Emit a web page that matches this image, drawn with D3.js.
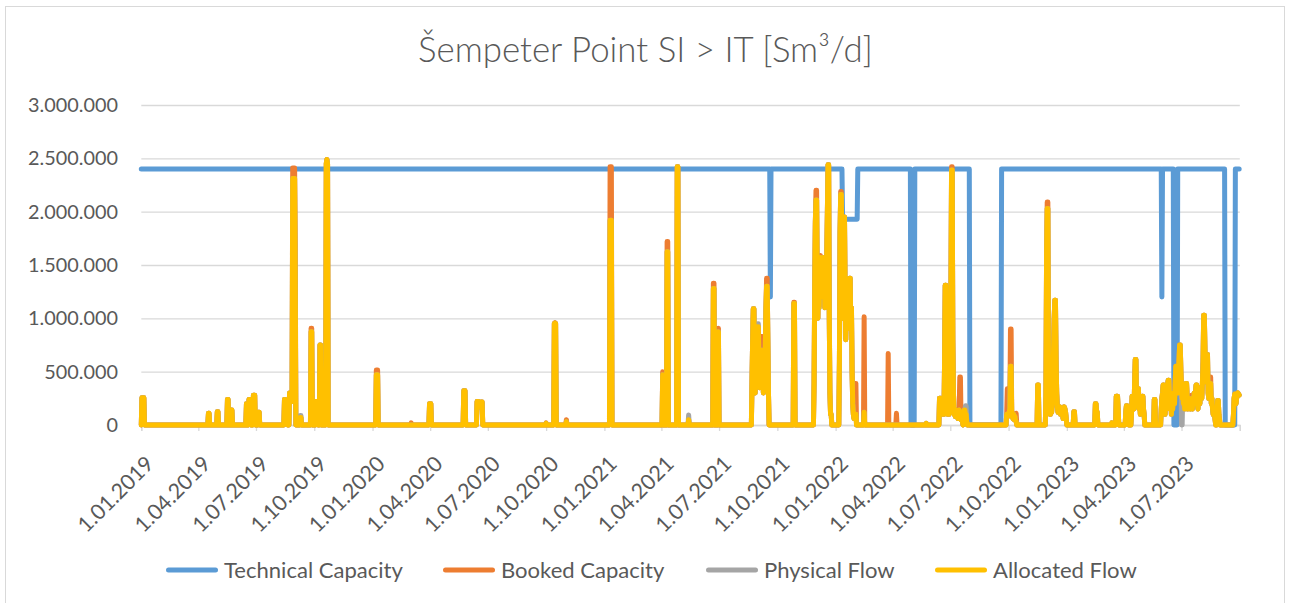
<!DOCTYPE html>
<html><head><meta charset="utf-8">
<script src="https://cdn.jsdelivr.net/npm/d3@7"></script>
<style>
html,body{margin:0;padding:0;background:#fff;}
svg{display:block;}
</style></head>
<body>
<svg id="chart" width="1290" height="603"></svg>
<script>
// ---------------- DATA ----------------
const chartTitle = "Šempeter Point SI > IT [Sm³/d]";
const seriesNames = ["Technical Capacity", "Booked Capacity", "Physical Flow", "Allocated Flow"];
const yTickValues = [0, 500000, 1000000, 1500000, 2000000, 2500000, 3000000];
const xTickLabels = ["1.01.2019","1.04.2019","1.07.2019","1.10.2019","1.01.2020","1.04.2020","1.07.2020","1.10.2020",
  "1.01.2021","1.04.2021","1.07.2021","1.10.2021","1.01.2022","1.04.2022","1.07.2022","1.10.2022",
  "1.01.2023","1.04.2023","1.07.2023"];
const axisEndDate = "2023-10-01";
const firstDay = "2019-01-01";
const lastDay = "2023-09-30";

// Technical capacity: [from, to (inclusive), Sm3/d]
const technicalCapacityPeriods = [
  ["2019-01-01","2021-09-19",2400000],
  ["2021-09-20","2021-09-20",1200000],
  ["2021-09-21","2022-01-11",2400000],
  ["2022-01-12","2022-02-04",1930000],
  ["2022-02-05","2022-04-29",2400000],
  ["2022-04-30","2022-05-05",0],
  ["2022-05-06","2022-07-31",2400000],
  ["2022-08-01","2022-09-19",0],
  ["2022-09-20","2023-05-30",2400000],
  ["2023-05-31","2023-05-31",1200000],
  ["2023-06-01","2023-06-18",2400000],
  ["2023-06-19","2023-06-24",0],
  ["2023-06-25","2023-09-07",2400000],
  ["2023-09-08","2023-09-23",0],
  ["2023-09-24","2023-09-30",2400000]
];

// Flow series: [first day, daily values in 1000 Sm3/d]; all other days are 0
const allocatedFlowRuns = [
  ["2019-01-02",[255,255,255,255]],
  ["2019-04-17",[110,110]],
  ["2019-05-01",[125,125]],
  ["2019-05-17",[240,240]],
  ["2019-05-23",[140,140]],
  ["2019-06-16",[200,200]],
  ["2019-06-20",[240,240,240]],
  ["2019-06-27",[280,280,280]],
  ["2019-07-05",[120,120]],
  ["2019-08-15",[240,240,160,180,200]],
  ["2019-08-23",[300,300,250,300,220,2310,2310,2310,2310,1330]],
  ["2019-09-09",[70,70]],
  ["2019-09-26",[875,875]],
  ["2019-10-04",[220,220,220]],
  ["2019-10-10",[750,750]],
  ["2019-10-20",[2450,2490,2450]],
  ["2020-01-07",[470,470,470]],
  ["2020-03-31",[200,200,200]],
  ["2020-05-24",[320,320,320]],
  ["2020-06-14",[220,220,220,200,170,200,215,215,215]],
  ["2020-10-01",[15]],
  ["2020-10-14",[950,955,950]],
  ["2020-11-02",[30]],
  ["2021-01-10",[1920,1920,1920]],
  ["2021-04-03",[470]],
  ["2021-04-10",[1625,1625]],
  ["2021-04-26",[2420,2420]],
  ["2021-05-14",[50]],
  ["2021-06-22",[1280,1280]],
  ["2021-06-30",[875]],
  ["2021-08-22",[400,800,1090,1090,600,300,650,450,800,920,920,550,350,600,400,700,700,450,300,550,400,700,1100,1300,1300,800,300]],
  ["2021-10-27",[1140,1140]],
  ["2021-11-28",[400,1300,1900,2110,2110,1300,1000,1450,1100,1500,1570,1300,1550,1200,1570,1400,1560,1100,1500,1300,1600,2000,2440,2440,1000,300,100,100]],
  ["2022-01-07",[600,1800,2160,2160,1500,1000,1600,1950,1950,1200,800,1100,900,1200,1000,1250,1375,1375,900,1100,500,200,100,60,80,100,100]],
  ["2022-02-15",[120]],
  ["2022-05-24",[15]],
  ["2022-06-14",[250,200,250,150,100,200,150,100,600,1310,1310,400,200,100,150,100,200,300,1200,2390,2390,800,300,100,150,80,140,100,120,60,100,140,100,100,50,80,40,0,100,140,140,80,100,30]],
  ["2022-09-28",[100,100,80,100,120,150,550,550,100,80,60,100,50,80,40,30]],
  ["2022-11-16",[375,375]],
  ["2022-11-29",[300,1600,2030,2030,600,200,150,100,150,120,200,300,700,1000,1170,1170,600,300,170,120,170,150,170,100,160,120,150,60,100,170,150,120,60]],
  ["2023-01-12",[125,125]],
  ["2023-02-15",[200,200,120,120]],
  ["2023-03-13",[20]],
  ["2023-03-20",[270,270,270,150]],
  ["2023-04-04",[120,180,180,100,30]],
  ["2023-04-13",[100,270,270,200,150,400,615,615,250,200,340,340,150,200,100,150,200,270,270,150,100]],
  ["2023-05-19",[240,240]],
  ["2023-05-30",[150,250,
    300,375,375,200,100,200,150,300,380,420,420,250,150,300,100,200,150,250,300,200,400,550,550,450,300,400,600,750,750,500,
    350,250,300,200,250,150,250,390,390,250,150,200,250,200,150,200,200,150,250,200,300,250,300,375,375,200,150,300,250,200,350,
    300,250,400,600,1030,1030,700,500,400,660,660,300,250,300,390,390,200,250,150,100,150,100,50,0,0,100,230,230,100,50]],
  ["2023-09-21",[100,250,290,290,200,250,290,300,290,280]]
];

const bookedCapacityRuns = [
  ["2019-01-02",[255,255,255,255]],
  ["2019-04-17",[110,110]],
  ["2019-05-01",[125,125]],
  ["2019-05-17",[240,240]],
  ["2019-05-23",[140,140]],
  ["2019-06-16",[200,200]],
  ["2019-06-20",[240,240,240]],
  ["2019-06-27",[280,280,280]],
  ["2019-07-05",[120,120]],
  ["2019-08-15",[240,240,160,180,200]],
  ["2019-08-23",[300,300,250,300,220,2410,2410,2410,2410,1700]],
  ["2019-09-09",[70,70]],
  ["2019-09-26",[906,906]],
  ["2019-10-04",[220,220,220]],
  ["2019-10-10",[750,750]],
  ["2019-10-20",[2450,2490,2450]],
  ["2020-01-07",[516,516,516]],
  ["2020-03-02",[20]],
  ["2020-03-31",[200,200,200]],
  ["2020-05-24",[320,320,320]],
  ["2020-06-14",[220,220,220,200,170,200,215,215,215]],
  ["2020-10-01",[20]],
  ["2020-10-14",[955,960,955]],
  ["2020-11-02",[50]],
  ["2021-01-10",[2420,2420,2420]],
  ["2021-04-03",[500]],
  ["2021-04-10",[1720,1720]],
  ["2021-04-26",[2420,2420]],
  ["2021-05-14",[50]],
  ["2021-06-22",[1330,1330]],
  ["2021-06-30",[906]],
  ["2021-08-22",[400,800,1090,1090,600,300,650,450,800,920,920,550,350,600,400,830,830,450,300,550,400,700,1100,1375,1375,800,300]],
  ["2021-10-27",[1150,1150]],
  ["2021-11-28",[400,1300,1900,2200,2200,1300,1000,1450,1100,1500,1590,1300,1550,1200,1570,1400,1560,1100,1500,1300,1600,2000,2440,2440,1000,300,100,100]],
  ["2022-01-07",[600,1800,2190,2190,1500,1000,1600,1950,1950,1200,800,1100,900,1200,1000,1250,1375,1375,900,1100,500,200,100,60,80,390,390]],
  ["2022-02-15",[1015]],
  ["2022-03-25",[670]],
  ["2022-04-07",[110]],
  ["2022-05-24",[15]],
  ["2022-06-14",[250,200,250,150,100,200,150,100,600,1310,1310,400,200,100,150,100,200,300,1200,2420,2420,800,300,100,150,80,140,100,120,60,100,140,450,450,50,80,40,0,100,140,140,80,100,30]],
  ["2022-09-28",[100,340,80,100,120,150,900,900,100,80,60,100,50,80,40,110]],
  ["2022-11-16",[375,375]],
  ["2022-11-29",[300,1600,2090,2090,600,200,150,100,150,120,200,300,700,1000,1170,1170,600,300,170,120,170,150,170,100,160,120,150,60,100,170,150,120,60]],
  ["2023-01-12",[125,125]],
  ["2023-02-15",[200,200,120,120]],
  ["2023-03-13",[20]],
  ["2023-03-20",[270,270,270,150]],
  ["2023-04-04",[120,180,180,100,30]],
  ["2023-04-13",[100,270,270,200,150,400,615,615,250,200,340,340,150,200,100,150,200,270,270,150,100]],
  ["2023-05-19",[240,240]],
  ["2023-05-30",[150,250,
    300,375,375,200,100,200,150,300,380,420,420,250,150,300,100,200,150,250,300,200,400,550,550,450,300,400,600,750,750,500,
    350,250,300,200,250,150,250,390,390,250,150,200,250,200,150,200,280,150,250,200,300,250,300,375,375,200,150,300,250,200,350,
    300,250,400,600,1030,1030,700,500,400,660,660,300,250,300,450,450,200,250,150,100,150,100,50,0,0,100,230,230,100,50]],
  ["2023-09-21",[100,250,290,290,200,250,290,300,290,280]]
];

const physicalFlowRuns = [
  ["2019-01-02",[255,255,255,255]],
  ["2019-04-17",[110,110]],
  ["2019-05-01",[125,125]],
  ["2019-05-17",[240,240]],
  ["2019-05-23",[140,140]],
  ["2019-06-16",[200,200]],
  ["2019-06-20",[240,240,240]],
  ["2019-06-27",[280,280,280]],
  ["2019-07-05",[120,120]],
  ["2019-08-15",[240,240,160,180,200]],
  ["2019-08-23",[300,300,250,300,220,2310,2310,2310,2310,1330]],
  ["2019-09-09",[90,90]],
  ["2019-09-26",[875,875]],
  ["2019-10-04",[220,220,220]],
  ["2019-10-10",[750,750]],
  ["2019-10-20",[2450,2490,2450]],
  ["2020-01-07",[470,470,470]],
  ["2020-03-31",[200,200,200]],
  ["2020-05-24",[320,320,320]],
  ["2020-06-14",[220,220,220,200,170,200,215,215,215]],
  ["2020-10-01",[15]],
  ["2020-10-14",[950,955,950]],
  ["2020-11-02",[30]],
  ["2021-01-10",[1920,1920,1920]],
  ["2021-04-03",[470]],
  ["2021-04-10",[1625,1625]],
  ["2021-04-26",[2420,2420]],
  ["2021-05-14",[94]],
  ["2021-06-22",[1280,1280]],
  ["2021-06-30",[875]],
  ["2021-08-22",[400,800,1090,1090,600,300,650,450,800,950,950,550,350,600,400,700,700,450,300,550,400,700,1100,1300,1300,800,300]],
  ["2021-10-27",[1140,1140]],
  ["2021-11-28",[400,1300,1900,2110,2110,1300,1000,1450,1100,1500,1570,1300,1550,1200,1570,1400,1560,1100,1500,1300,1600,2000,2440,2440,1000,300,100,100]],
  ["2022-01-07",[600,1800,2160,2160,1500,1000,1600,1950,1950,1200,800,1100,900,1200,1000,1250,1375,1375,900,1100,500,200,100,60,80,100,100]],
  ["2022-02-15",[120]],
  ["2022-05-24",[15]],
  ["2022-06-14",[250,200,250,150,100,200,150,100,600,1310,1310,400,200,100,150,100,200,300,1200,2390,2390,800,300,100,150,80,140,100,120,60,100,140,100,100,50,80,40,0,100,140,140,180,180,30]],
  ["2022-09-28",[100,100,80,100,120,150,550,550,100,80,60,100,50,80,40,30]],
  ["2022-11-16",[375,375]],
  ["2022-11-29",[300,1600,2030,2030,600,200,150,100,150,120,200,300,700,1000,1170,1170,600,300,170,120,170,150,170,100,160,120,150,60,100,170,150,120,60]],
  ["2023-01-12",[125,125]],
  ["2023-02-15",[200,200,120,120]],
  ["2023-03-13",[20]],
  ["2023-03-20",[270,270,270,150]],
  ["2023-04-04",[120,180,180,100,30]],
  ["2023-04-13",[100,270,270,200,150,400,615,615,250,200,340,340,150,200,100,150,200,270,270,150,100]],
  ["2023-05-19",[240,240]],
  ["2023-05-30",[150,250,
    300,375,375,200,100,200,150,300,380,420,420,250,150,300,100,200,150,250,300,200,400,550,550,450,300,400,600,750,750,500,
    0,0,300,200,250,150,250,390,390,250,150,200,250,200,150,200,200,150,250,200,300,250,300,375,375,200,150,300,250,200,350,
    300,250,400,600,1030,1030,700,500,400,660,660,300,250,300,390,390,200,250,150,100,150,100,50,0,0,100,230,230,100,50]],
  ["2023-09-21",[100,250,290,290,200,250,290,300,290,280]]
];

const seriesColors = ["#5B9BD5", "#ED7D31", "#A5A5A5", "#FFC000"];

// ---------------- CHART ----------------
(function drawChart() {
  const parse = d3.utcParse("%Y-%m-%d");
  const days = d3.utcDay.range(parse(firstDay), d3.utcDay.offset(parse(lastDay), 1));

  function fromRuns(runs) {
    const m = new Map();
    runs.forEach(([s, vals]) => {
      const start = parse(s);
      vals.forEach((v, i) => m.set(+d3.utcDay.offset(start, i), v * 1000));
    });
    return days.map(d => ({date: d, value: m.has(+d) ? m.get(+d) : 0}));
  }
  function fromPeriods(periods) {
    const ps = periods.map(([a, b, v]) => [parse(a), parse(b), v]);
    return days.map(d => {
      const p = ps.find(([a, b]) => d >= a && d <= b);
      return {date: d, value: p ? p[2] : 0};
    });
  }

  const series = [
    fromPeriods(technicalCapacityPeriods),
    fromRuns(bookedCapacityRuns),
    fromRuns(physicalFlowRuns),
    fromRuns(allocatedFlowRuns)
  ];

  const svg = d3.select("#chart");
  const W = 1290, H = 603;
  const pL = 141.3, pR = 1239.8, pT = 105, pB = 425;
  const textColor = "#595959";
  const fontFamily = "Lato, 'Open Sans', sans-serif";

  svg.append("rect").attr("width", W).attr("height", H).attr("fill", "#fff");
  svg.append("rect").attr("x", 5.5).attr("y", 6.5).attr("width", 1279).attr("height", 610)
    .attr("fill", "none").attr("stroke", "#d9d9d9").attr("stroke-width", 1);

  const x = d3.scaleUtc().domain([parse(firstDay), parse(axisEndDate)]).range([pL, pR]);
  const y = d3.scaleLinear().domain([0, 3000000]).range([pB, pT]);

  function fitSize(sel, baseSize, target) {
    const w = sel.node().getComputedTextLength();
    return baseSize * target / w;
  }

  // Title
  const title = svg.append("text").attr("x", 645.5).attr("y", 62)
    .attr("text-anchor", "middle").attr("fill", textColor)
    .attr("font-family", fontFamily).attr("font-weight", 300).attr("font-size", 34)
    .text(chartTitle);
  title.attr("font-size", fitSize(title, 34, 455));

  // Legend
  const legendX = [166, 443, 706, 935];
  const legendY = 570;
  const lg = svg.append("g");
  seriesNames.forEach((name, i) => {
    lg.append("line").attr("x1", legendX[i] + 2.5).attr("x2", legendX[i] + 49.5)
      .attr("y1", legendY).attr("y2", legendY)
      .attr("stroke", seriesColors[i]).attr("stroke-width", 5).attr("stroke-linecap", "round");
    lg.append("text").attr("class", "lgtext").attr("x", legendX[i] + 58).attr("y", legendY)
      .attr("dy", "0.35em").attr("fill", textColor)
      .attr("font-family", fontFamily).attr("font-size", 20).text(name);
  });
  const legendSize = fitSize(lg.select("text.lgtext"), 20, 179);
  lg.selectAll("text.lgtext").attr("font-size", legendSize);

  // Y axis with gridlines
  const fmt = d3.formatLocale({decimal: ",", thousands: ".", grouping: [3], currency: ["", ""]}).format(",d");
  const yAxis = svg.append("g").attr("transform", `translate(${pL},0)`)
    .call(d3.axisLeft(y).tickValues(yTickValues).tickFormat(fmt).tickSize(-(pR - pL)).tickPadding(23.3));
  yAxis.select(".domain").remove();
  yAxis.selectAll(".tick line").attr("stroke", "#d9d9d9").attr("stroke-width", 1.3);
  const yTexts = yAxis.selectAll(".tick text").attr("fill", textColor).attr("font-family", fontFamily).attr("font-size", 20);
  const yTop = yTexts.filter(d => d === 3000000);
  yTexts.attr("font-size", fitSize(yTop, 20, 90));

  // X axis
  const parseLabel = s => { const [d, m, yy] = s.split("."); return new Date(Date.UTC(+yy, +m - 1, +d)); };
  const tickDates = xTickLabels.map(parseLabel).concat([parse(axisEndDate)]);
  const xAxis = svg.append("g").attr("transform", `translate(0,${pB})`)
    .call(d3.axisBottom(x).tickValues(tickDates).tickFormat((d, i) => xTickLabels[i] || "").tickSize(6));
  xAxis.select(".domain").attr("stroke", "#d9d9d9").attr("stroke-width", 1.3);
  xAxis.selectAll(".tick line").attr("stroke", "#d9d9d9").attr("stroke-width", 1.3);
  const xTexts = xAxis.selectAll(".tick text")
    .attr("fill", textColor).attr("font-family", fontFamily).attr("font-size", 20)
    .attr("text-anchor", "end").attr("y", 0).attr("dy", "0.35em");
  const xSize = fitSize(xTexts.filter((d, i) => i === 1), 20, 97);
  xTexts.attr("font-size", xSize).attr("transform", "translate(8,35) rotate(-45)");

  // Lines
  const line = d3.line().x(d => x(d.date)).y(d => y(d.value));
  series.forEach((s, i) => {
    svg.append("path").datum(s).attr("d", line)
      .attr("fill", "none").attr("stroke", seriesColors[i]).attr("stroke-width", 5)
      .attr("stroke-linejoin", "round").attr("stroke-linecap", "round");
  });
})();
</script>
</body></html>
